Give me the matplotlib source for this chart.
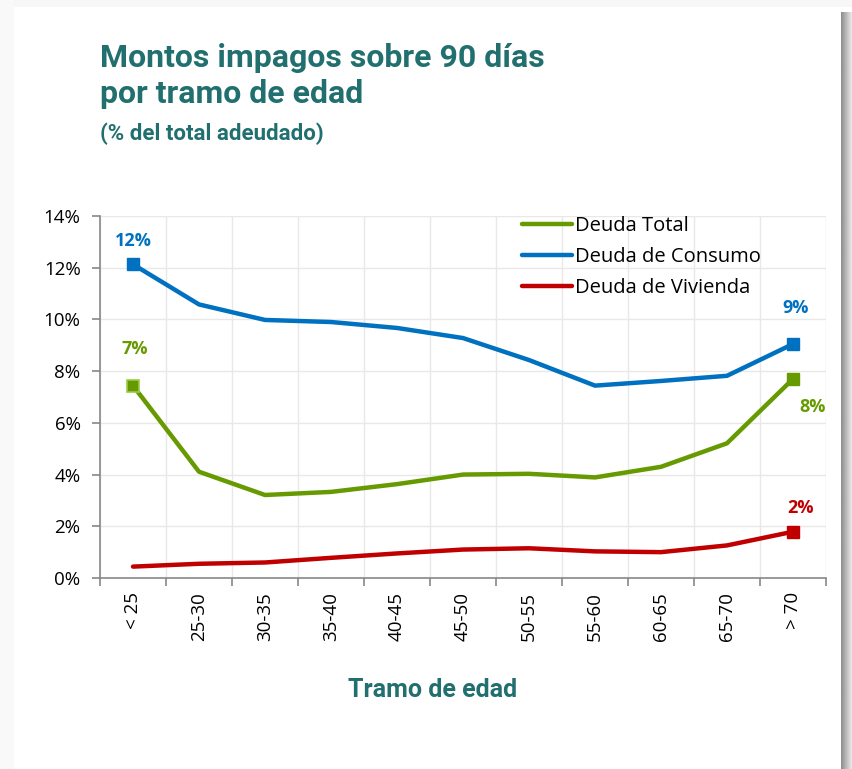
import matplotlib
matplotlib.use("Agg")
import matplotlib.pyplot as plt
import numpy as np
from matplotlib.patches import Rectangle

categories = ["< 25", "25-30", "30-35", "35-40", "40-45", "45-50",
              "50-55", "55-60", "60-65", "65-70", "> 70"]
deuda_total = [7.44, 4.11, 3.21, 3.33, 3.63, 4.00, 4.03, 3.89, 4.30, 5.21, 7.70]
deuda_consumo = [12.13, 10.58, 9.98, 9.90, 9.67, 9.28, 8.43, 7.44, 7.62, 7.82, 9.05]
deuda_vivienda = [0.44, 0.55, 0.60, 0.78, 0.95, 1.10, 1.15, 1.03, 1.00, 1.26, 1.79]
series_names = ["Deuda Total", "Deuda de Consumo", "Deuda de Vivienda"]
yticks = [0, 2, 4, 6, 8, 10, 12, 14]

GREEN = "#669a00"
BLUE = "#0070c0"
RED = "#c00000"
TEAL = "#21706f"

W, H = 852, 769
fig = plt.figure(figsize=(W / 100, H / 100), dpi=100)
fig.patch.set_facecolor("white")

# card shadow on the right
grad = np.linspace(0.55, 0.92, 50).reshape(1, -1)
sh = fig.add_axes([841 / W, 0, 11 / W, 1 - 12 / H])
sh.imshow(grad, cmap="gray", vmin=0, vmax=1, aspect="auto", extent=[0, 1, 0, 1])
sh.axis("off")
# faint top/left shadow
fig.patches.append(Rectangle((0, 1 - 7 / H), 1, 7 / H, transform=fig.transFigure,
                             facecolor="#f7f7f7", edgecolor="none", zorder=-1))
fig.patches.append(Rectangle((0, 0), 14 / W, 1, transform=fig.transFigure,
                             facecolor="#f9f9f9", edgecolor="none", zorder=-1))

ax = fig.add_axes([100 / W, 1 - 578 / H, 726 / W, 362 / H])
x = np.arange(len(categories))

for vals, col, name in [(deuda_total, GREEN, series_names[0]),
                        (deuda_consumo, BLUE, series_names[1]),
                        (deuda_vivienda, RED, series_names[2])]:
    ax.plot(x, vals, color=col, lw=3.2, solid_joinstyle="round",
            solid_capstyle="round", label=name, zorder=3)

# end markers
ax.plot([x[0]], [deuda_consumo[0]], "s", color=BLUE, ms=9, zorder=4)
ax.plot([x[-1]], [deuda_consumo[-1]], "s", color=BLUE, ms=9, zorder=4)
ax.plot([x[0]], [deuda_total[0]], "s", color=GREEN, mec="#9bcb4a", mew=1.2, ms=9, zorder=4)
ax.plot([x[-1]], [deuda_total[-1]], "s", color=GREEN, ms=9, zorder=4)
ax.plot([x[-1]], [deuda_vivienda[-1]], "s", color=RED, ms=9, zorder=4)

lab_font = dict(fontsize=13, fontweight="bold", family="Open Sans", va="center", ha="center",
                textcoords="offset points")
ax.annotate(f"{deuda_consumo[0]:.0f}%", (x[0], deuda_consumo[0]), xytext=(0, 17),
            color=BLUE, **lab_font)
ax.annotate(f"{deuda_total[0]:.0f}%", (x[0], deuda_total[0]), xytext=(1, 26.5),
            color=GREEN, **lab_font)
ax.annotate(f"{deuda_consumo[-1]:.0f}%", (x[-1], deuda_consumo[-1]), xytext=(1.5, 26),
            color=BLUE, **lab_font)
ax.annotate(f"{deuda_total[-1]:.0f}%", (x[-1], deuda_total[-1]), xytext=(14, -20),
            color=GREEN, **lab_font)
ax.annotate(f"{deuda_vivienda[-1]:.0f}%", (x[-1], deuda_vivienda[-1]), xytext=(5.5, 17),
            color=RED, **lab_font)

ax.set_xlim(-0.5, len(categories) - 0.5)
ax.set_ylim(0, 14)
ax.set_yticks(yticks)
ax.set_yticklabels([f"{v}%" for v in yticks])
ax.set_xticks(x)
ax.set_xticklabels(categories, rotation=90, family="Open Sans", fontsize=13.5)
ax.set_xticks(np.arange(-0.5, len(categories)), minor=True)
ax.tick_params(axis="x", which="major", length=0, pad=10)
ax.tick_params(axis="x", which="minor", length=6, width=1.2, color="#888888")
ax.tick_params(axis="y", length=6, width=1.2, color="#888888", labelsize=13.5, pad=8)
for t in ax.get_yticklabels():
    t.set_family("Open Sans")

ax.grid(True, which="minor", axis="x", color="#e8e8e8", lw=1)
ax.grid(True, which="major", axis="y", color="#e8e8e8", lw=1)
ax.set_axisbelow(True)
ax.spines["top"].set_visible(False)
ax.spines["right"].set_visible(False)
ax.spines["left"].set_color("#888888")
ax.spines["bottom"].set_color("#888888")
ax.spines["left"].set_linewidth(1.2)
ax.spines["bottom"].set_linewidth(1.2)

leg = ax.legend(loc="upper left", bbox_to_anchor=((522 - 100) / 726, 1.0), frameon=False,
                prop=dict(family="Open Sans", size=14.5), handlelength=2.5,
                handletextpad=0.15, labelspacing=0.55, borderaxespad=0, borderpad=0)

fig.text(100 / W, 1 - 67 / H, "Montos impagos sobre 90 días", fontsize=23,
         fontweight="bold", color=TEAL, family="Roboto", va="baseline")
fig.text(100 / W, 1 - 103 / H, "por tramo de edad", fontsize=23,
         fontweight="bold", color=TEAL, family="Roboto", va="baseline")
fig.text(100 / W, 1 - 140 / H, "(% del total adeudado)", fontsize=16,
         fontweight="bold", color=TEAL, family="Roboto", va="baseline")
fig.text(433 / W, 1 - 690 / H, "Tramo de edad", fontsize=18, fontweight="bold",
         color=TEAL, family="Roboto", ha="center", va="center")

fig.savefig("out.png", dpi=100)
